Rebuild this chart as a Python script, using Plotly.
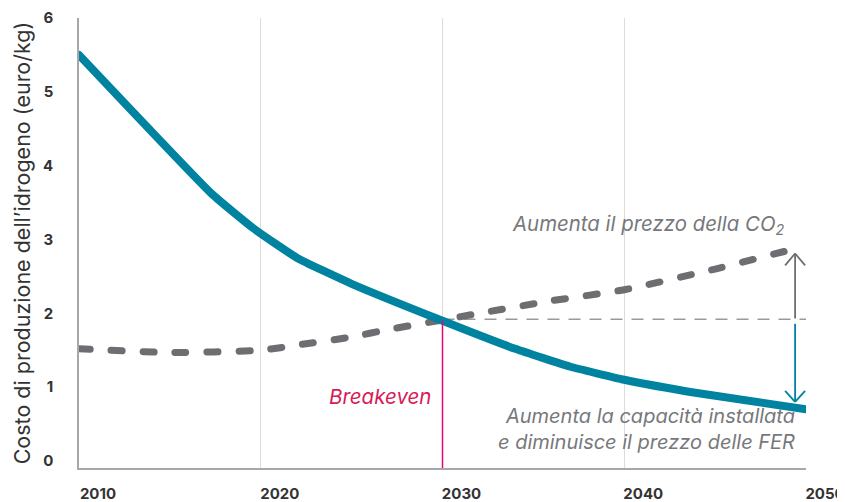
import plotly.graph_objects as go

# Data
teal_years = [2010, 2017.3, 2019.6, 2022, 2025, 2030, 2034, 2037, 2040, 2044, 2050]
teal_cost = [5.50, 3.62, 3.15, 2.75, 2.40, 1.90, 1.52, 1.28, 1.10, 0.92, 0.70]

gray_years = [2010, 2015, 2020, 2022, 2025, 2027, 2030, 2032, 2036, 2040, 2045, 2049]
gray_cost = [1.52, 1.47, 1.50, 1.57, 1.68, 1.78, 1.91, 2.00, 2.17, 2.32, 2.60, 2.85]

x_ticks = [2010, 2020, 2030, 2040, 2050]
y_ticks = [0, 1, 2, 3, 4, 5, 6]

breakeven_year = 2030
breakeven_cost = 1.90
arrow_year = 2049.4
gray_arrow = (1.93, 2.81)
teal_arrow = (1.86, 0.80)
y_min = -0.095

TEAL = "#0083a0"
GRAY = "#6d6e71"
MAG = "#e6007e"
FONT = "Inter"

fig = go.Figure()
fig.add_trace(go.Scatter(x=gray_years, y=gray_cost, mode="lines",
                         line=dict(color=GRAY, width=7, dash="11px,21px", shape="spline", smoothing=0.6),
                         hoverinfo="skip"))
fig.add_trace(go.Scatter(x=teal_years, y=teal_cost, mode="lines",
                         line=dict(color=TEAL, width=8, shape="spline", smoothing=0.4),
                         hoverinfo="skip"))

shapes = []
# breakeven vertical
shapes.append(dict(type="line", x0=breakeven_year, x1=breakeven_year, y0=y_min, y1=breakeven_cost,
                   line=dict(color=MAG, width=1.5), layer="above"))
# reference dashed horizontal
shapes.append(dict(type="line", x0=breakeven_year, x1=2050, y0=breakeven_cost + 0.02, y1=breakeven_cost + 0.02,
                   line=dict(color="#9a9a9a", width=1.5, dash="12px,9px"), layer="below"))
# arrows
hw = 0.55
hh_gray = 0.16
hh_teal = 0.15
shapes.append(dict(type="line", x0=arrow_year, x1=arrow_year, y0=gray_arrow[0], y1=gray_arrow[1],
                   line=dict(color=GRAY, width=1.8)))
shapes.append(dict(type="line", x0=arrow_year - hw, x1=arrow_year, y0=gray_arrow[1] - hh_gray, y1=gray_arrow[1],
                   line=dict(color=GRAY, width=1.8)))
shapes.append(dict(type="line", x0=arrow_year + hw, x1=arrow_year, y0=gray_arrow[1] - hh_gray, y1=gray_arrow[1],
                   line=dict(color=GRAY, width=1.8)))
shapes.append(dict(type="line", x0=arrow_year, x1=arrow_year, y0=teal_arrow[0], y1=teal_arrow[1],
                   line=dict(color=TEAL, width=1.8)))
shapes.append(dict(type="line", x0=arrow_year - hw, x1=arrow_year, y0=teal_arrow[1] + hh_teal, y1=teal_arrow[1],
                   line=dict(color=TEAL, width=1.8)))
shapes.append(dict(type="line", x0=arrow_year + hw, x1=arrow_year, y0=teal_arrow[1] + hh_teal, y1=teal_arrow[1],
                   line=dict(color=TEAL, width=1.8)))

annotations = [
    dict(x=breakeven_year - 0.55, y=0.87, xref="x", yref="y", text="<i>Breakeven</i>", showarrow=False,
         xanchor="right", yanchor="middle", font=dict(family=FONT, size=20.5, color="#d81b55")),
    dict(x=2048.9, y=3.2, xref="x", yref="y", text="<i>Aumenta il prezzo della CO<sub>2</sub></i>", showarrow=False,
         xanchor="right", yanchor="middle", font=dict(family=FONT, size=20.4, color="#77787b")),
    dict(x=2049.5, y=0.44, xref="x", yref="y",
         text="<i>Aumenta la capacità installata<br>e diminuisce il prezzo delle FER</i>", showarrow=False,
         xanchor="right", yanchor="middle", align="right", font=dict(family=FONT, size=20, color="#77787b")),
]

fig.update_layout(
    width=845, height=502,
    margin=dict(l=71, r=47, t=10, b=42),
    plot_bgcolor="white", paper_bgcolor="white",
    showlegend=False,
    shapes=shapes, annotations=annotations,
    font=dict(family=FONT),
    xaxis=dict(range=[2010, 2050], tickvals=x_ticks, ticktext=[str(v) for v in x_ticks],
               showgrid=True, gridcolor="#dcdcdc", gridwidth=1.2,
               showline=True, linecolor="#a7a7a7", linewidth=1.5, automargin=False,
               ticks="", ticklabelstandoff=11, ticklabelshift=19, zeroline=False,
               tickfont=dict(family=FONT, size=15, color="#333333", weight="bold")),
    yaxis=dict(range=[y_min, 6], tickvals=y_ticks, showgrid=False,
               showline=True, linecolor="#a7a7a7", linewidth=1.5, automargin=False,
               ticks="", ticklabelstandoff=21, zeroline=False,
               tickfont=dict(family=FONT, size=15, color="#333333", weight="bold"),
               title=dict(text="Costo di produzione dell’idrogeno (euro/kg)", standoff=7,
                          font=dict(family=FONT, size=21.5, color="#333333"))),
)

post = """
document.querySelectorAll('.scatterlayer path.js-line').forEach(function(p){
  p.style.strokeLinecap = 'round'; p.style.strokeLinejoin = 'round';
});
"""
fig.write_html("out.html", post_script=post)
